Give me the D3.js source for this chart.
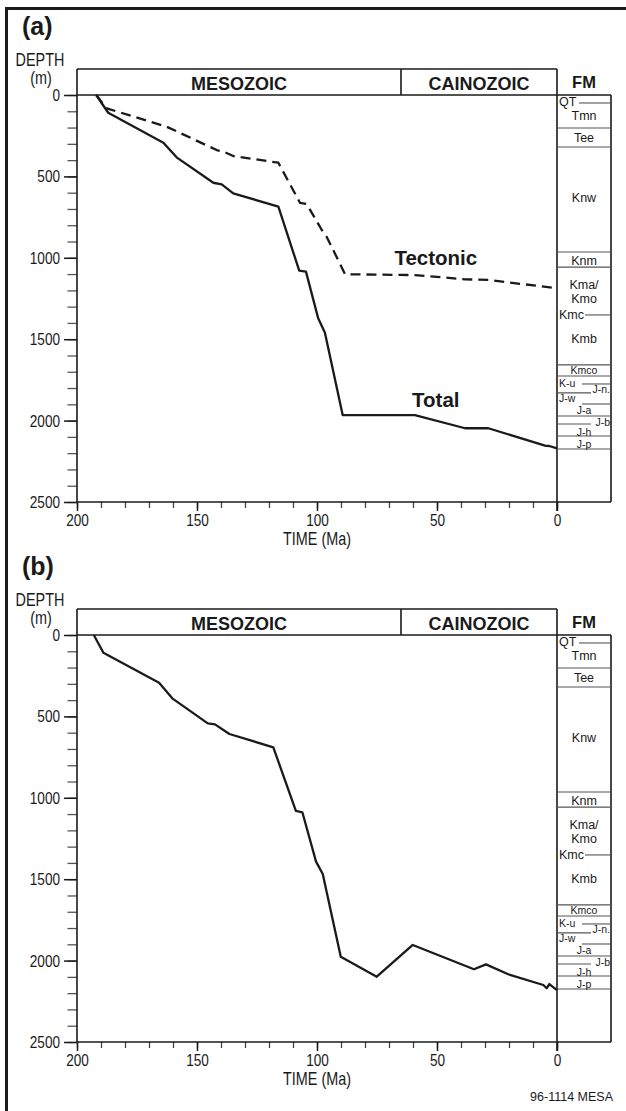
<!DOCTYPE html>
<html lang="en">
<head>
<meta charset="UTF-8">
<title>Burial history</title>
<script src="https://d3js.org/d3.v7.min.js"></script>
<style>
    body { margin: 0; background: #fff; }
    svg text { fill: #1a1a1a; }
    .narrow { font-family: "Liberation Sans", Arial, sans-serif; }
    .bold { font-family: "Liberation Sans", Arial, sans-serif; font-weight: bold; }
    .fm { font-family: "Liberation Sans", Arial, sans-serif; }
</style>
</head>
<body>
<svg id="chart" width="626" height="1111"></svg>
<script>
    // eras along the top band (Ma)
    const eraNames = ["MESOZOIC", "CAINOZOIC"];
    const eraFrom = [200, 65];
    const eraTo = [65, 0];

    // panel (a) total subsidence
    const totalA_age = [192, 187, 164, 158.5, 143.2, 139.7, 134.9, 116.1, 107.4, 104.6, 99.5, 96.7, 89.3, 59.2, 38.3, 28.6, 5, 3.2, 0];
    const totalA_depth = [0, 109, 293, 383, 539, 549, 604, 686, 1079, 1085, 1372, 1460, 1966, 1966, 2047, 2047, 2154, 2156, 2170];

    // panel (a) tectonic subsidence
    const tectA_age = [192, 187.6, 162.6, 141.8, 139, 134.9, 116.1, 107.1, 104.3, 98, 96, 88.3, 59.2, 38.3, 28.6, 0];
    const tectA_depth = [0, 82, 195, 338, 348, 375, 416, 662, 670, 829, 870, 1101, 1106, 1132, 1136, 1187];

    // panel (b) total subsidence
    const totalB_age = [193, 189, 165.8, 160.3, 145.5, 142.5, 136.5, 118.2, 108.8, 106.1, 100.4, 97.6, 90.1, 75.1, 60.1, 34.6, 29.6, 20.3, 5.7, 4.3, 3.2, 0];
    const totalB_depth = [0, 109, 293, 389, 543, 549, 608, 690, 1081, 1089, 1392, 1468, 1976, 2099, 1904, 2053, 2023, 2084, 2150, 2170, 2144, 2181];

    // formation column: boundaries (m) and which part of the column they cross
    const fmBoundary = [49, 203, 319, 964, 1057, 1351, 1658, 1726, 1775, 1830, 1898, 1972, 2021, 2095, 2174];
    const fmBoundaryPart = ["qt", "all", "all", "all", "all", "kmc", "all", "all", "right", "left", "right", "all", "left", "all", "all"];

    // formation labels and the depth they sit at
    const fmNames = ["QT", "Tmn", "Tee", "Knw", "Knm", "Kma/", "Kmo", "Kmc", "Kmb", "Kmco", "K-u", "J-n.", "J-w", "J-a", "J-b", "J-h", "J-p"];
    const fmLabelDepth = [37, 123, 264, 627, 1014, 1161, 1247, 1351, 1493, 1692, 1768, 1808, 1862, 1936, 2013, 2070, 2143];
    const fmAlign = ["start", "middle", "middle", "middle", "middle", "middle", "middle", "start", "middle", "middle", "start", "end", "start", "middle", "end", "middle", "middle"];

    const depthMajor = d3.range(0, 2501, 500);
    const depthMinor = d3.range(0, 2501, 100);
    const ageMajor = [200, 150, 100, 50, 0];
    const ageMinor = d3.range(0, 201, 10);

    // no condensed face is installed, so squeeze the plain one
    const squeeze = 0.8;

    const svg = d3.select("#chart");

    // frame round the figure (top and left edges)
    svg.append("path")
        .attr("d", "M6.5,1111 V8.5 H626")
        .attr("fill", "none")
        .attr("stroke", "#1a1a1a")
        .attr("stroke-width", 3);

    const x = d3.scaleLinear().domain([200, 0]).range([77, 557]);
    const y = d3.scaleLinear().domain([0, 2500]).range([95, 502]);
    const fmLeft = 557, fmRight = 611, bandTop = 69;

    function narrowText(g, px, py, txt, size) {
        return g.append("text").attr("class", "narrow")
            .attr("transform", `translate(${px},${py}) scale(${squeeze},1)`)
            .attr("text-anchor", "middle").attr("font-size", size)
            .text(txt);
    }

    function drawPanel(offset, label, series) {
        const g = svg.append("g").attr("transform", `translate(0,${offset})`);

        g.append("text").attr("class", "bold")
            .attr("x", 22).attr("y", 35)
            .attr("font-size", 25)
            .text(label);

        narrowText(g, 40, 66, "DEPTH", 18);
        narrowText(g, 41, 84, "(m)", 18);

        // minor and major depth ticks
        g.append("g")
            .attr("transform", `translate(${x(200)},0)`)
            .call(d3.axisLeft(y).tickValues(depthMinor).tickSize(9.5).tickSizeOuter(0).tickFormat(""))
            .call(a => a.select(".domain").remove())
            .call(a => a.selectAll("line").attr("stroke", "#555").attr("stroke-width", 1.3));
        g.append("g")
            .attr("class", "narrow")
            .attr("transform", `translate(${x(200)},0)`)
            .call(d3.axisLeft(y).tickValues(depthMajor).tickSize(13).tickSizeOuter(0).tickPadding(4).tickFormat(d3.format("d")))
            .call(a => a.select(".domain").remove())
            .call(a => a.selectAll("line").attr("stroke", "#1a1a1a").attr("stroke-width", 1.5))
            .call(a => a.selectAll("text").attr("font-size", 17).attr("fill", "#1a1a1a")
                .attr("x", -17 / squeeze).attr("transform", `scale(${squeeze},1)`));

        // time ticks
        g.append("g")
            .attr("transform", `translate(0,${y(2500)})`)
            .call(d3.axisBottom(x).tickValues(ageMinor).tickSize(6).tickSizeOuter(0).tickFormat(""))
            .call(a => a.select(".domain").remove())
            .call(a => a.selectAll("line").attr("stroke", "#444").attr("stroke-width", 1.3));
        g.append("g")
            .attr("class", "narrow")
            .attr("transform", `translate(0,${y(2500)})`)
            .call(d3.axisBottom(x).tickValues(ageMajor).tickSize(9).tickSizeOuter(0).tickPadding(3).tickFormat(d3.format("d")))
            .call(a => a.select(".domain").remove())
            .call(a => a.selectAll("line").attr("stroke", "#1a1a1a").attr("stroke-width", 1.5))
            .call(a => a.selectAll("text").attr("font-size", 17).attr("fill", "#1a1a1a")
                .attr("transform", `scale(${squeeze},1)`));

        narrowText(g, (x(200) + x(0)) / 2, 545, "TIME (Ma)", 18);

        // axes frame and era band
        const frame = g.append("g").attr("fill", "none").attr("stroke", "#1a1a1a").attr("stroke-width", 1.6);
        frame.append("line").attr("x1", x(200)).attr("x2", x(200)).attr("y1", bandTop).attr("y2", y(2500));
        frame.append("line").attr("x1", x(200)).attr("x2", fmRight).attr("y1", y(2500)).attr("y2", y(2500));
        frame.append("line").attr("x1", x(200)).attr("x2", x(0)).attr("y1", bandTop).attr("y2", bandTop);
        frame.append("line").attr("x1", x(200)).attr("x2", fmRight).attr("y1", y(0)).attr("y2", y(0));
        frame.append("line").attr("x1", x(0)).attr("x2", x(0)).attr("y1", bandTop).attr("y2", y(2500) + 9);
        frame.append("line").attr("x1", fmRight).attr("x2", fmRight).attr("y1", y(0)).attr("y2", y(2500));
        frame.selectAll(".era-div")
            .data(eraFrom.slice(1))
            .join("line")
            .attr("x1", d => x(d)).attr("x2", d => x(d))
            .attr("y1", bandTop).attr("y2", y(0));

        g.selectAll(".era")
            .data(eraNames)
            .join("text")
            .attr("class", "bold")
            .attr("x", (d, i) => (x(eraFrom[i]) + x(eraTo[i])) / 2)
            .attr("y", 90)
            .attr("text-anchor", "middle")
            .attr("font-size", 18)
            .text(d => d);

        g.append("text").attr("class", "bold")
            .attr("x", (fmLeft + fmRight) / 2).attr("y", 88)
            .attr("text-anchor", "middle").attr("font-size", 16.5)
            .text("FM");

        // formation column
        const partX = {
            all: [fmLeft, fmRight], left: [fmLeft, 591], right: [582, fmRight],
            qt: [579, fmRight], kmc: [585, fmRight]
        };
        g.selectAll(".fm-line")
            .data(fmBoundary)
            .join("line")
            .attr("x1", (d, i) => partX[fmBoundaryPart[i]][0])
            .attr("x2", (d, i) => partX[fmBoundaryPart[i]][1])
            .attr("y1", d => y(d)).attr("y2", d => y(d))
            .attr("stroke", "#555").attr("stroke-width", 1.1);

        // the thin Jurassic units near the base get a smaller face
        g.selectAll(".fm-label")
            .data(fmNames)
            .join("text")
            .attr("class", "fm")
            .attr("font-size", (d, i) => fmLabelDepth[i] > 1650 ? 10.5 : 12.5)
            .attr("x", (d, i) => fmAlign[i] === "start" ? fmLeft + 2 : fmAlign[i] === "end" ? fmRight - 1 : (fmLeft + fmRight) / 2)
            .attr("y", (d, i) => y(fmLabelDepth[i]))
            .attr("dy", "0.36em")
            .attr("text-anchor", (d, i) => fmAlign[i])
            .attr("fill", "#1a1a1a")
            .text(d => d);

        // curves
        const line = d3.line().x(d => x(d[0])).y(d => y(d[1]));
        series.forEach(s => {
            g.append("path")
                .datum(d3.zip(s.age, s.depth))
                .attr("d", line)
                .attr("fill", "none")
                .attr("stroke", "#1a1a1a")
                .attr("stroke-width", 2.3)
                .attr("stroke-linejoin", "round")
                .attr("stroke-dasharray", s.dashed ? "10,6" : null);
            if (s.name) {
                g.append("text").attr("class", "bold")
                    .attr("x", x(s.labelAge)).attr("y", y(s.labelDepth))
                    .attr("text-anchor", "middle").attr("font-size", 20.5)
                    .text(s.name);
            }
        });
        return g;
    }

    drawPanel(0, "(a)", [
        { age: tectA_age, depth: tectA_depth, dashed: true, name: "Tectonic", labelAge: 50.5, labelDepth: 1045 },
        { age: totalA_age, depth: totalA_depth, dashed: false, name: "Total", labelAge: 50.5, labelDepth: 1915 }
    ]);
    drawPanel(540, "(b)", [
        { age: totalB_age, depth: totalB_depth, dashed: false }
    ]);

    svg.append("text")
        .attr("x", 613).attr("y", 1101)
        .attr("text-anchor", "end")
        .attr("font-family", "Liberation Sans, Arial, sans-serif")
        .attr("font-size", 12.5)
        .text("96-1114 MESA");
</script>
</body>
</html>
